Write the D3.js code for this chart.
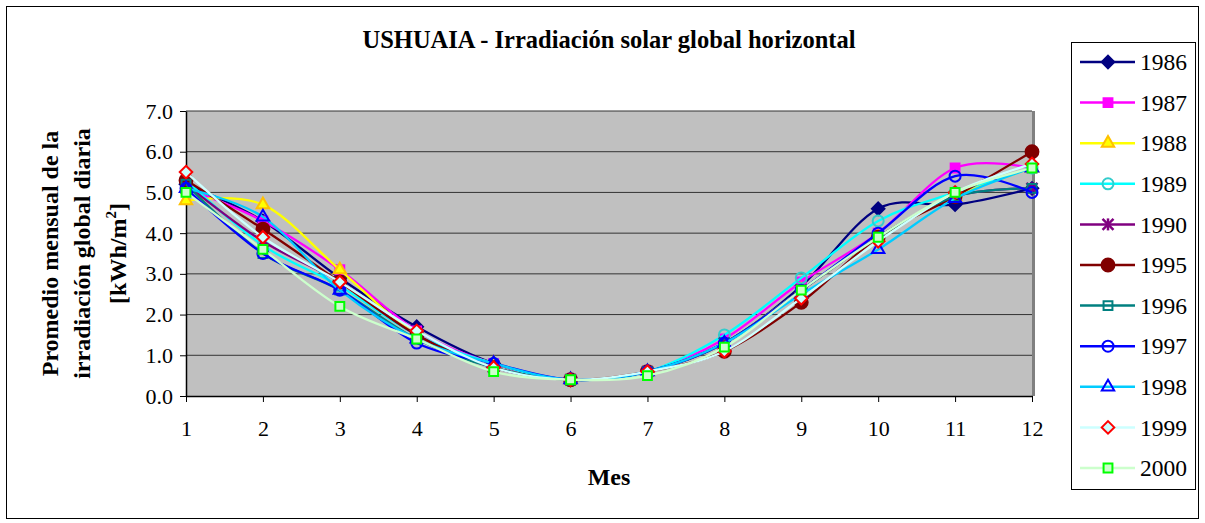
<!DOCTYPE html>
<html><head><meta charset="utf-8">
<script src="https://cdn.jsdelivr.net/npm/d3@7"></script>
<style>body{margin:0;background:#fff}svg{display:block}text{font-family:"Liberation Serif","Times New Roman",serif}</style>
</head><body>
<svg id="c" width="1205" height="523"></svg>
<script>
const months = [1,2,3,4,5,6,7,8,9,10,11,12];
const yTicks = [0,1,2,3,4,5,6,7];
const years = ["1986","1987","1988","1989","1990","1995","1996","1997","1998","1999","2000"];
const s1986 = [5.2, 4.3, 2.9, 1.7, 0.8, 0.4, 0.6, 1.3, 2.7, 4.6, 4.7, 5.1];
const s1987 = [5.1, 4.3, 3.1, 1.6, 0.8, 0.4, 0.6, 1.4, 2.8, 4.0, 5.6, 5.6];
const s1988 = [4.8, 4.7, 3.1, 1.5, 0.8, 0.4, 0.6, 1.3, 2.6, 3.9, 4.9, 5.6];
const s1989 = [5.3, 3.7, 2.7, 1.5, 0.8, 0.4, 0.6, 1.5, 2.9, 4.3, 5.0, 5.6];
const s1990 = [5.2, 3.8, 2.8, 1.5, 0.7, 0.4, 0.6, 1.3, 2.6, 3.9, 4.9, 5.1];
const s1995 = [5.3, 4.1, 2.8, 1.5, 0.7, 0.4, 0.6, 1.1, 2.3, 3.9, 4.9, 6.0];
const s1996 = [5.2, 3.5, 2.6, 1.4, 0.7, 0.4, 0.6, 1.3, 2.6, 3.9, 4.9, 5.1];
const s1997 = [5.1, 3.5, 2.6, 1.3, 0.8, 0.4, 0.6, 1.3, 2.6, 4.0, 5.4, 5.0];
const s1998 = [5.1, 4.4, 2.6, 1.4, 0.8, 0.4, 0.6, 1.3, 2.5, 3.6, 4.85, 5.6];
const s1999 = [5.5, 3.9, 2.8, 1.6, 0.7, 0.4, 0.6, 1.1, 2.4, 3.8, 5.0, 5.7];
const s2000 = [5.0, 3.6, 2.2, 1.4, 0.6, 0.4, 0.5, 1.2, 2.6, 3.9, 5.0, 5.6];
const values = [s1986,s1987,s1988,s1989,s1990,s1995,s1996,s1997,s1998,s1999,s2000];

const styles = [
  {line:"#000080", shape:"diamond", fill:"#000080", stroke:"#000080"},
  {line:"#FF00FF", shape:"square", fill:"#FF00FF", stroke:"#FF00FF"},
  {line:"#FFFF00", shape:"triangle", fill:"#FFFF00", stroke:"#FFC000"},
  {line:"#00FFFF", shape:"circle", fill:"none", stroke:"#33CCCC"},
  {line:"#800080", shape:"star", fill:"none", stroke:"#800080"},
  {line:"#800000", shape:"dot", fill:"#800000", stroke:"#800000"},
  {line:"#008080", shape:"square", fill:"none", stroke:"#008080"},
  {line:"#0000FF", shape:"circle", fill:"none", stroke:"#0000FF"},
  {line:"#00CCFF", shape:"triangle", fill:"none", stroke:"#0000FF"},
  {line:"#CCFFFF", shape:"diamond", fill:"#CCFFFF", stroke:"#FF0000"},
  {line:"#CCFFCC", shape:"square", fill:"#CCFFCC", stroke:"#00FF00"}
];

const svg = d3.select("#c");
svg.append("rect").attr("x",6.5).attr("y",6.5).attr("width",1192).attr("height",512)
  .attr("fill","#fff").attr("stroke","#000").attr("stroke-width",1);

const L = 186, R = 1032, T = 111, B = 396;
const x = d3.scaleLinear().domain([1,12]).range([L,R]);
const y = d3.scaleLinear().domain([0,7]).range([B,T]);

svg.append("rect").attr("x",L).attr("y",T).attr("width",R-L).attr("height",B-T)
  .attr("fill","#C0C0C0");
svg.append("g").selectAll("line").data(yTicks.filter(d=>d>0)).join("line")
  .attr("x1",L).attr("x2",R).attr("y1",d=>y(d)).attr("y2",d=>y(d))
  .attr("stroke","#333").attr("stroke-width",1);
svg.append("line").attr("x1",R+1.5).attr("x2",R+1.5).attr("y1",T).attr("y2",B)
  .attr("stroke","#808080").attr("stroke-width",3);

const yAxis = d3.axisLeft(y).tickValues(yTicks).tickFormat(d3.format(".1f")).tickSize(6).tickSizeOuter(0);
const gy = svg.append("g").attr("transform",`translate(${L},0)`).call(yAxis);
gy.select(".domain").attr("stroke","#000").attr("stroke-width",1.5);
gy.selectAll(".tick line").attr("stroke","#000");
gy.selectAll("text").style("font-size","22px").attr("fill","#000").attr("x",-13);

const xAxis = d3.axisBottom(x).tickValues(months).tickFormat(d3.format("d")).tickSize(6).tickSizeOuter(0);
const gx = svg.append("g").attr("transform",`translate(0,${B})`).call(xAxis);
gx.select(".domain").attr("stroke","#000").attr("stroke-width",1.5);
gx.selectAll(".tick line").attr("stroke","#000");
gx.selectAll("text").style("font-size","22px").attr("fill","#000").attr("y",24);

const sym = {
  diamond: d3.symbol().type(d3.symbolDiamond2).size(100),
  square: d3.symbol().type(d3.symbolSquare2).size(100),
  triangle: d3.symbol().type(d3.symbolTriangle2).size(110),
  circle: d3.symbol().type(d3.symbolCircle).size(95),
  dot: d3.symbol().type(d3.symbolCircle).size(130)
};
function drawMarker(g, st, cx, cy){
  if(st.shape==="star"){
    g.append("path").attr("d", d3.symbol().type(d3.symbolTimes).size(80)())
      .attr("transform",`translate(${cx},${cy})`).attr("stroke",st.stroke).attr("stroke-width",2.5).attr("fill","none");
    g.append("line").attr("x1",cx).attr("x2",cx).attr("y1",cy-6).attr("y2",cy+6)
      .attr("stroke",st.stroke).attr("stroke-width",2.5);
    return;
  }
  g.append("path").attr("d", sym[st.shape]())
    .attr("transform",`translate(${cx},${cy})`)
    .attr("fill",st.fill).attr("stroke",st.stroke).attr("stroke-width",2);
}

const line = d3.line().x((d,i)=>x(months[i])).y(d=>y(d)).curve(d3.curveCatmullRom.alpha(0));
values.forEach((vals,k)=>{
  const g = svg.append("g");
  g.append("path").attr("d",line(vals)).attr("fill","none").attr("stroke",styles[k].line).attr("stroke-width",2.3);
  vals.forEach((v,i)=>drawMarker(g, styles[k], x(months[i]), y(v)));
});

svg.append("text").attr("x",(L+R)/2).attr("y",48).attr("text-anchor","middle")
  .style("font-size","24.5px").attr("font-weight","bold").text("USHUAIA - Irradiación solar global horizontal");
svg.append("text").attr("x",(L+R)/2).attr("y",485).attr("text-anchor","middle")
  .style("font-size","24px").attr("font-weight","bold").text("Mes");
const yt = svg.append("g").attr("transform",`translate(0,${(T+B)/2}) rotate(-90)`);
yt.append("text").attr("x",0).attr("y",58).attr("text-anchor","middle").style("font-size","24px").attr("font-weight","bold").text("Promedio mensual de la");
yt.append("text").attr("x",0).attr("y",90).attr("text-anchor","middle").style("font-size","24px").attr("font-weight","bold").text("irradiación global diaria");
const t3 = yt.append("text").attr("x",0).attr("y",126).attr("text-anchor","middle").style("font-size","24px").attr("font-weight","bold");
t3.append("tspan").text("[kWh/m");
t3.append("tspan").attr("dy",-10).style("font-size","15px").text("2");
t3.append("tspan").attr("dy",10).text("]");

const lg = svg.append("g");
lg.append("rect").attr("x",1071.5).attr("y",42.5).attr("width",124).attr("height",447)
  .attr("fill","#fff").attr("stroke","#000").attr("stroke-width",1);
const ly = d3.scalePoint().domain(years).range([62,468]);
years.forEach((yr,k)=>{
  const cy = ly(yr);
  lg.append("line").attr("x1",1080).attr("x2",1135).attr("y1",cy).attr("y2",cy)
    .attr("stroke",styles[k].line).attr("stroke-width",2.5);
  drawMarker(lg, styles[k], 1108, cy);
  lg.append("text").attr("x",1140).attr("y",cy).attr("dy","0.35em").style("font-size","23.5px").text(yr);
});
</script>
</body></html>
